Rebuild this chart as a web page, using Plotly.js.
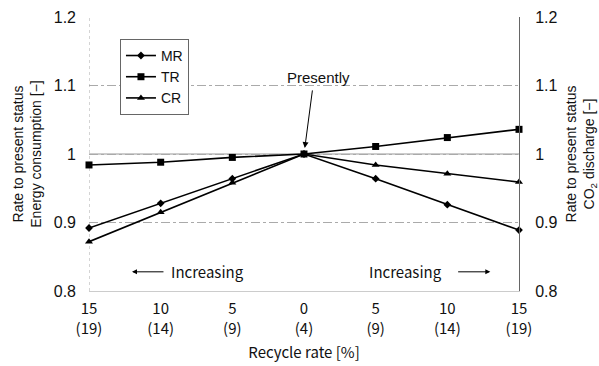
<!DOCTYPE html>
<html>
<head>
<meta charset="utf-8">
<script src="https://cdn.plot.ly/plotly-3.0.1.min.js"></script>
<style>html,body{margin:0;padding:0;background:#fff;}#chart{width:599px;height:366px;}</style>
</head>
<body>
<div id="chart"></div>
<script>
var xPos = [0, 1, 2, 3, 4, 5, 6];
var tickLabels = ["15<br>(19)", "10<br>(14)", "5<br>(9)", "0<br>(4)", "5<br>(9)", "10<br>(14)", "15<br>(19)"];
var MR = [0.892, 0.928, 0.964, 1.0, 0.964, 0.926, 0.889];
var TR = [0.984, 0.988, 0.995, 1.0, 1.011, 1.024, 1.036];
var CR = [0.872, 0.915, 0.958, 1.0, 0.984, 0.971, 0.959];

var tickFont = {family: "Liberation Sans, Arial, sans-serif", size: 16, color: "#111"};
var jpFont = {family: "Noto Sans CJK JP, sans-serif", size: 15, color: "#111"};
var sansFont = {family: "Liberation Sans, Arial, sans-serif", size: 15, color: "#111"};
var titleFont = {family: "Liberation Sans, Arial, sans-serif", size: 14, color: "#111"};

function series(name, y, sym, size) {
  return {x: xPos, y: y, name: name, type: "scatter", mode: "lines+markers",
    line: {color: "#000", width: 1.6},
    marker: {symbol: sym, size: size, color: "#000"},
    cliponaxis: false};
}

var data = [
  series("MR", MR, "diamond", 6),
  series("TR", TR, "square", 7),
  series("CR", CR, "triangle-up", 7),
  {x: xPos, y: MR, yaxis: "y2", type: "scatter", mode: "none", showlegend: false, hoverinfo: "skip"}
];

var layout = {
  width: 599, height: 366,
  margin: {l: 89, r: 80, t: 17, b: 75},
  paper_bgcolor: "#fff", plot_bgcolor: "#fff",
  showlegend: true,
  legend: {x: 0.072, y: 0.92, xanchor: "left", yanchor: "top",
    bgcolor: "#fff", bordercolor: "#666", borderwidth: 1,
    font: {family: "Liberation Sans, Arial, sans-serif", size: 14, color: "#111"},
    tracegroupgap: 0, itemwidth: 30},
  xaxis: {range: [0, 6], tickmode: "array", tickvals: xPos, ticktext: tickLabels,
    showgrid: false, zeroline: false, showline: true, linecolor: "#ccc", linewidth: 1,
    ticks: "", ticklabelstandoff: 4,
    tickfont: jpFont,
    title: {text: "Recycle rate [%]", font: jpFont, standoff: 10}},
  yaxis: {range: [0.8, 1.2], tickvals: [0.8, 0.9, 1.0, 1.1, 1.2], ticktext: ["0.8", "0.9", "1", "1.1", "1.2"],
    showgrid: true, gridcolor: "#aaa", griddash: "dashdot", gridwidth: 1,
    zeroline: false, showline: false, ticks: "", ticklabelstandoff: 12,
    tickfont: tickFont,
    title: {text: "Rate to present status<br>Energy consumption [−]", font: titleFont, standoff: 8}},
  yaxis2: {range: [0.8, 1.2], overlaying: "y", side: "right",
    tickvals: [0.8, 0.9, 1.0, 1.1, 1.2], ticktext: ["0.8", "0.9", "1", "1.1", "1.2"],
    showgrid: false, zeroline: false, showline: true, linecolor: "#666", linewidth: 1,
    ticks: "", ticklabelstandoff: 12, tickfont: tickFont,
    title: {text: "Rate to present status<br>CO<sub>2</sub> discharge [−]", font: titleFont, standoff: 12}},
  shapes: [
    {type: "line", xref: "x", yref: "y", x0: 0, x1: 6, y0: 1.0, y1: 1.0, line: {color: "#999", width: 1}, layer: "below"},
    {type: "line", xref: "x", yref: "y", x0: 0, x1: 0, y0: 0.8, y1: 1.2, line: {color: "#aaa", width: 1, dash: "dot"}, layer: "below"}
  ],
  annotations: [
    {x: 3, y: 1.0, xref: "x", yref: "y", ax: 3.12, ay: 1.095, axref: "x", ayref: "y",
      text: "", showarrow: true, arrowhead: 2, arrowsize: 1.2, arrowwidth: 1, arrowcolor: "#000", standoff: 6},
    {x: 3.2, y: 1.097, xref: "x", yref: "y", text: "Presently", showarrow: false,
      font: sansFont, xanchor: "center", yanchor: "bottom"},
    {x: 1.66, y: 0.828, xref: "x", yref: "y", text: "Increasing", showarrow: false, font: jpFont, xanchor: "center"},
    {x: 0.6, y: 0.828, xref: "x", yref: "y", ax: 1.06, ay: 0.828, axref: "x", ayref: "y", showarrow: true,
      text: "", arrowhead: 2, arrowsize: 1, arrowwidth: 1, arrowcolor: "#000", standoff: 0, startstandoff: 0},
    {x: 4.42, y: 0.828, xref: "x", yref: "y", text: "Increasing", showarrow: false, font: jpFont, xanchor: "center"},
    {x: 5.6, y: 0.828, xref: "x", yref: "y", ax: 5.13, ay: 0.828, axref: "x", ayref: "y", showarrow: true,
      text: "", arrowhead: 2, arrowsize: 1, arrowwidth: 1, arrowcolor: "#000", standoff: 0, startstandoff: 0}
  ]
};

Plotly.newPlot("chart", data, layout, {displayModeBar: false, staticPlot: true});
</script>
</body>
</html>
